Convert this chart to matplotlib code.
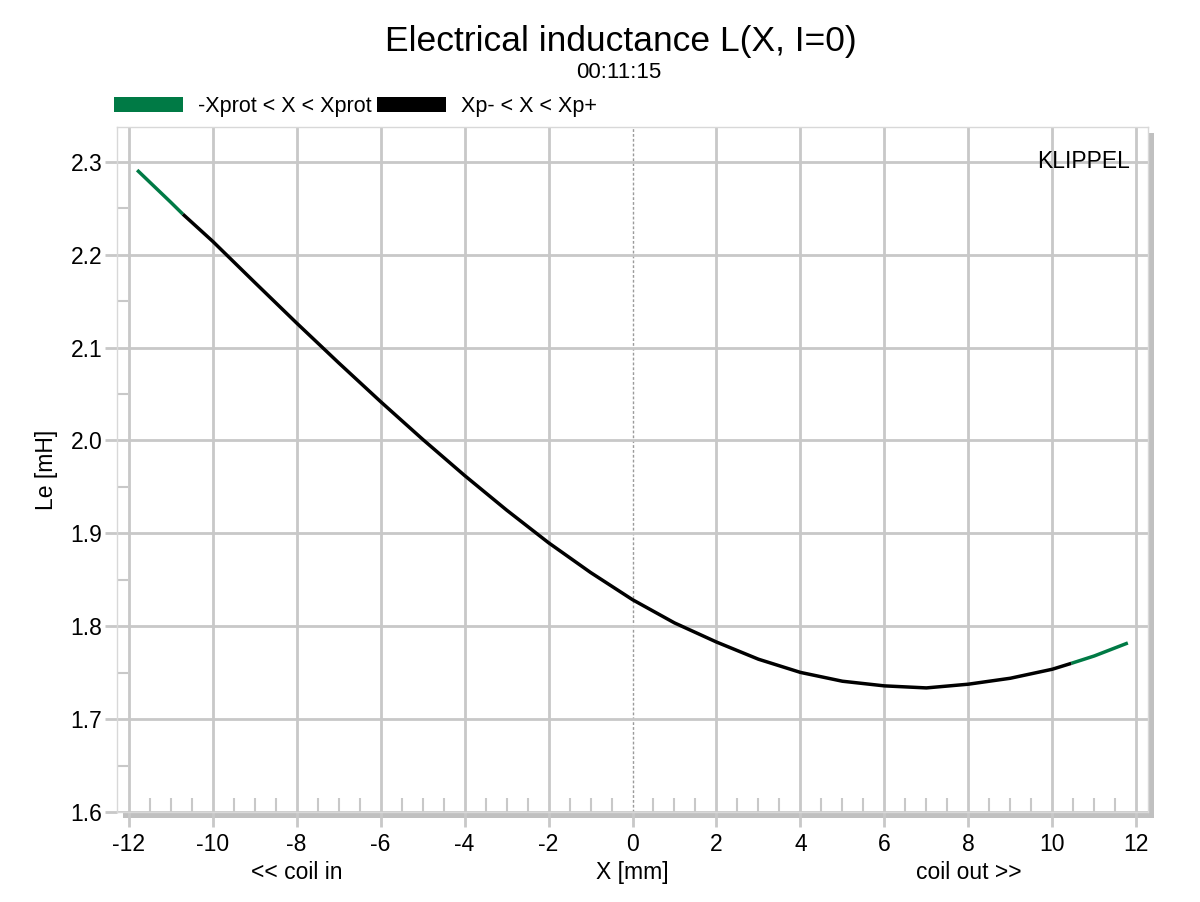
import numpy as np
import matplotlib
matplotlib.use("Agg")
import matplotlib.pyplot as plt
from matplotlib.patches import Patch, Rectangle

plt.rcParams['font.family'] = ['Liberation Sans', 'DejaVu Sans']

# Data (X in mm, Le in mH)
x_mm = [-11.8, -11.0, -10.71, -10.0, -9.0, -8.0, -7.0, -6.0, -5.0, -4.0, -3.0, -2.0,
        -1.0, 0.0, 1.0, 2.0, 3.0, 4.0, 5.0, 6.0, 7.0, 8.0, 9.0, 10.0, 10.45, 11.0, 11.8]
le_mH = [2.2911, 2.2565, 2.2436, 2.2144, 2.1702, 2.1264, 2.0836, 2.0418, 2.0013, 1.9623,
         1.9251, 1.8899, 1.8579, 1.8286, 1.8036, 1.7830, 1.7645, 1.7503, 1.7408, 1.7358,
         1.7336, 1.7376, 1.7440, 1.7537, 1.7600, 1.7680, 1.7820]
xp_minus = -10.71   # Xp- limit
xp_plus = 10.45     # Xp+ limit

legend_labels = ["-Xprot < X < Xprot", "Xp- < X < Xp+"]
x_ticks = [-12, -10, -8, -6, -4, -2, 0, 2, 4, 6, 8, 10, 12]
y_ticks = [1.6, 1.7, 1.8, 1.9, 2.0, 2.1, 2.2, 2.3]

green = '#007a45'
grid_c = '#c8c8c8'
fs = 16.5

fig = plt.figure(figsize=(12, 9.02), dpi=100)
ax = fig.add_axes([117 / 1200, 1 - 812 / 902, (1148 - 117) / 1200, (812 - 127) / 902])

x = np.array(x_mm)
y = np.array(le_mH)
left = x <= xp_minus
mid = (x >= xp_minus) & (x <= xp_plus)
right = x >= xp_plus
ax.plot(x[left], y[left], color=green, lw=2.5, solid_capstyle='butt', zorder=3)
ax.plot(x[right], y[right], color=green, lw=2.5, solid_capstyle='butt', zorder=3)
ax.plot(x[mid], y[mid], color='black', lw=2.5, solid_capstyle='butt',
        solid_joinstyle='round', zorder=3)

ax.set_xlim(-12.28, 12.28)
ax.set_ylim(1.6, 2.3375)
ax.set_xticks(x_ticks)
ax.set_xticklabels([str(t) for t in x_ticks])
ax.set_yticks(y_ticks)
ax.set_yticklabels([f"{t:.1f}" for t in y_ticks])
ax.set_xticks(np.arange(-11.5, 12, 0.5), minor=True)
ax.set_yticks(np.arange(1.65, 2.34, 0.1), minor=True)

ax.grid(True, which='major', color=grid_c, lw=2)
ax.tick_params(axis='x', which='major', direction='out', length=11, width=2,
               color=grid_c, labelsize=fs, pad=4)
ax.tick_params(axis='y', which='major', direction='out', length=8.5, width=2,
               color=grid_c, labelsize=fs, pad=2)
ax.tick_params(axis='x', which='minor', direction='in', length=10, width=1.5, color=grid_c)
ax.tick_params(axis='y', which='minor', direction='in', length=8, width=1.5, color=grid_c)

# dotted line at X = 0 instead of the solid grid line
for loc, gl in zip(ax.get_xticks(), ax.get_xgridlines()):
    if loc == 0:
        gl.set_visible(False)
ax.axvline(0, color='#9a9a9a', lw=1, ls=(0, (2, 1.5)), zorder=1)

for s in ax.spines.values():
    s.set_color('#d8d8d8')
    s.set_linewidth(1)

# drop shadow of the plot frame
pos = ax.get_position()
shadow = Rectangle((pos.x0 + 6 / 1200, pos.y0 - 6 / 902), pos.width, pos.height,
                   transform=fig.transFigure, facecolor='#c0c0c0', edgecolor='none', zorder=-1)
fig.add_artist(shadow)

ax.set_ylabel("Le [mH]", fontsize=fs, labelpad=9)
xt = ax.get_xaxis_transform()
ax.text(0, -0.089, "X [mm]", transform=xt, ha='center', va='center', fontsize=fs)
ax.text(-8, -0.089, "<< coil in", transform=xt, ha='center', va='center', fontsize=fs)
ax.text(8, -0.089, "coil out >>", transform=xt, ha='center', va='center', fontsize=fs)
ax.text(11.85, 2.3, "KLIPPEL", ha='right', va='center', fontsize=16.5)

fig.text(621 / 1200, 1 - 42 / 902, "Electrical inductance L(X, I=0)", ha='center', va='center',
         fontsize=25.5)
fig.text(619 / 1200, 1 - 73 / 902, "00:11:15", ha='center', va='center', fontsize=16)

handles = [Patch(facecolor=green, edgecolor='none'), Patch(facecolor='black', edgecolor='none')]
fig.legend(handles, legend_labels, loc='lower left', ncol=2, frameon=False,
           bbox_to_anchor=(114 / 1200, 1 - 117 / 902), bbox_transform=fig.transFigure,
           fontsize=15.5, handlelength=3.2, handleheight=0.72, handletextpad=0.7,
           columnspacing=0.25, borderpad=0, borderaxespad=0)

fig.savefig("out.png", dpi=100)
